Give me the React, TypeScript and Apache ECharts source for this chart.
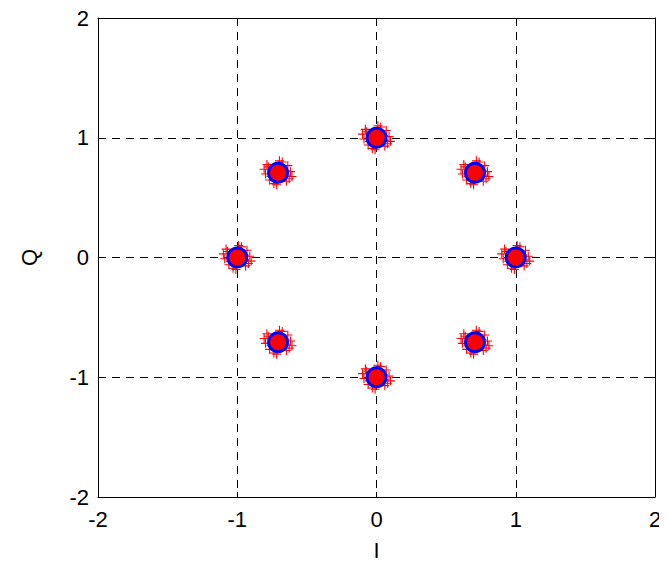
import React, { useEffect, useRef } from "react";
import * as echarts from "echarts";

const tickValues = [-2, -1, 0, 1, 2];
const constellation: [number, number][] = [
  [0, 1],
  [0.707, 0.707],
  [1, 0],
  [0.707, -0.707],
  [0, -1],
  [-0.707, -0.707],
  [-1, 0],
  [-0.707, 0.707],
];
// estimated noise offsets of received samples around each symbol
const noiseOffsets: [number, number][] = [
  [0.09, 0.01], [-0.09, -0.01], [0.01, 0.1], [-0.01, -0.1],
  [0.07, 0.06], [-0.07, 0.05], [0.06, -0.07], [-0.06, -0.06],
  [0.1, -0.03], [-0.1, 0.03], [0.03, 0.09], [-0.03, -0.09],
  [0.05, 0.02], [-0.05, -0.03], [0.02, -0.05], [-0.02, 0.05],
  [0.08, -0.05], [-0.08, 0.07],
];

const font = "'Liberation Sans', Arial, sans-serif";

export default function App() {
  const ref = useRef<HTMLDivElement>(null);
  useEffect(() => {
    if (!ref.current) return;
    const chart = echarts.init(ref.current, undefined, { renderer: "svg" });
    const noisy: [number, number][] = [];
    constellation.forEach(([x, y]) =>
      noiseOffsets.forEach(([dx, dy]) => noisy.push([x + dx, y + dy]))
    );
    const axisCommon = {
      min: tickValues[0],
      max: tickValues[tickValues.length - 1],
      interval: 1,
      axisLine: { show: true, onZero: false, lineStyle: { color: "#000", width: 1 } },
      axisTick: { show: true, inside: true, length: 5, lineStyle: { color: "#000" } },
    };
    const labelStyle = { color: "#000", fontSize: 22, fontFamily: font };
    chart.setOption({
      animation: false,
      backgroundColor: "#fff",
      grid: {
        left: 98,
        right: 12,
        top: 18,
        bottom: 70,
        show: false,
        containLabel: false,
        outerBoundsMode: "none",
      },
      xAxis: [
        {
          ...axisCommon,
          type: "value",
          position: "bottom",
          name: "I",
          nameLocation: "middle",
          nameGap: 42,
          nameTextStyle: labelStyle,
          axisLabel: { ...labelStyle, margin: 11 },
          splitLine: { show: true, lineStyle: { color: "#000", type: [8, 6], width: 1 } },
        },
        {
          ...axisCommon,
          type: "value",
          position: "top",
          axisLabel: { show: false },
          splitLine: { show: false },
        },
      ],
      yAxis: [
        {
          ...axisCommon,
          type: "value",
          position: "left",
          name: "Q",
          nameLocation: "middle",
          nameRotate: 90,
          nameGap: 58,
          nameTextStyle: labelStyle,
          axisLabel: { ...labelStyle, margin: 9 },
          splitLine: { show: true, lineStyle: { color: "#000", type: [8, 6], width: 1 } },
        },
        {
          ...axisCommon,
          type: "value",
          position: "right",
          axisLabel: { show: false },
          splitLine: { show: false },
        },
      ],
      series: [
        {
          type: "scatter",
          data: noisy,
          symbol: "path://M-0.12,-1H0.12V-0.12H1V0.12H0.12V1H-0.12V0.12H-1V-0.12H-0.12Z",
          symbolSize: 9,
          itemStyle: { color: "#ff0000", opacity: 1 },
          z: 2,
        },
        {
          type: "scatter",
          data: constellation,
          symbol: "circle",
          symbolSize: 22,
          itemStyle: { color: "#0000ff", opacity: 1 },
          z: 3,
        },
        {
          type: "scatter",
          data: constellation,
          symbol: "circle",
          symbolSize: 16,
          itemStyle: { color: "#ff0000", opacity: 1 },
          z: 4,
        },
      ],
    });
    return () => chart.dispose();
  }, []);
  return (
    <div
      ref={ref}
      style={{ width: 667, height: 567, margin: "-8px 0 0 -8px" }}
    />
  );
}
